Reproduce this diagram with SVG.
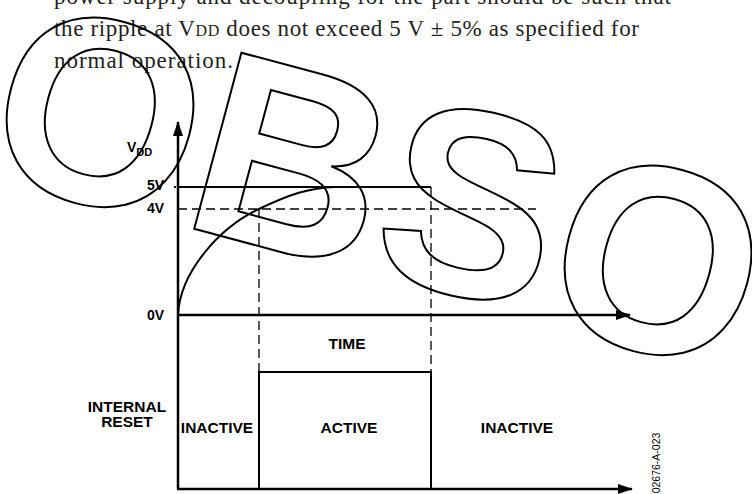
<svg xmlns="http://www.w3.org/2000/svg" width="752" height="494" viewBox="0 0 752 494">
  <defs>
    <style>
      .body { font-family: "Liberation Serif", "Times New Roman", serif; font-size: 23px; fill: #231f20; }
      .lbl { font-family: "Liberation Sans", Arial, sans-serif; font-weight: bold; font-size: 15.5px; fill: #000; }
      .vlbl { font-family: "Liberation Sans", Arial, sans-serif; font-weight: bold; font-size: 14px; fill: #000; }
      .code { font-family: "Liberation Sans", Arial, sans-serif; font-size: 10.5px; fill: #000; }
      .wm { font-family: "Liberation Sans", Arial, sans-serif; font-weight: bold; font-size: 265px; fill: none; stroke: #000; stroke-width: 2; stroke-linejoin: miter; }
      .axis { stroke: #000; stroke-width: 2.5; fill: none; }
      .solid { stroke: #000; stroke-width: 2; fill: none; }
      .dash { stroke: #000; stroke-width: 1.3; fill: none; stroke-dasharray: 9 5; }
    </style>
    <marker id="arr" viewBox="0 0 15 10" refX="14" refY="5" markerWidth="15" markerHeight="10" markerUnits="userSpaceOnUse" orient="auto">
      <path d="M0,0 L15,5 L0,10 Z" fill="#000"/>
    </marker>
  </defs>
  <rect width="752" height="494" fill="#fff"/>

  <g id="body-text">
    <text class="body" x="54" y="4" textLength="617" lengthAdjust="spacing">power supply and decoupling for the part should be such that</text>
    <text class="body" x="54" y="36" textLength="585" lengthAdjust="spacing">the ripple at V<tspan font-size="16">DD</tspan> does not exceed 5 V ± 5% as specified for</text>
    <text class="body" x="54" y="68" textLength="179" lengthAdjust="spacing">normal operation.</text>
  </g>

  <g id="connectors">
    <line id="y-axis" class="axis" x1="178" y1="489" x2="178" y2="122" marker-end="url(#arr)"/>
    <line id="time-axis" class="axis" x1="178" y1="315" x2="630" y2="315" marker-end="url(#arr)"/>
    <line id="reset-axis" class="axis" x1="177" y1="489" x2="632" y2="489" marker-end="url(#arr)"/>
    <line id="line-5v" class="solid" x1="178" y1="187" x2="431" y2="187"/>
    <line class="solid" x1="174" y1="187" x2="176" y2="187" stroke-width="1.5"/>
    <line id="line-4v" class="dash" x1="178" y1="209" x2="536" y2="209"/>
    <line class="dash" x1="259" y1="209" x2="259" y2="372"/>
    <line class="dash" x1="431" y1="187" x2="431" y2="372"/>
    <path id="vdd-curve" class="solid" d="M178,315 C180,272 219,228 259,209 C289,194.7 310,187.5 335,187"/>
    <path id="reset-pulse" class="solid" d="M259,489 L259,372 L431,372 L431,489"/>
  </g>

  <g id="labels">
    <text class="vlbl" x="127" y="152">V<tspan font-size="11" dy="4">DD</tspan></text>
    <text class="vlbl" x="164" y="190" text-anchor="end">5V</text>
    <text class="vlbl" x="164" y="213" text-anchor="end">4V</text>
    <text class="vlbl" x="164" y="320" text-anchor="end">0V</text>
    <text class="lbl" x="347" y="349" text-anchor="middle">TIME</text>
    <text class="lbl" x="127" y="412" text-anchor="middle">INTERNAL</text>
    <text class="lbl" x="127" y="427" text-anchor="middle">RESET</text>
    <text class="lbl" x="217" y="433" text-anchor="middle">INACTIVE</text>
    <text class="lbl" x="349" y="433" text-anchor="middle">ACTIVE</text>
    <text class="lbl" x="517" y="433" text-anchor="middle">INACTIVE</text>
    <text class="code" transform="translate(660,463) rotate(-90)" text-anchor="middle">02676-A-023</text>
  </g>

  <g id="watermark">
    <text class="wm" transform="translate(101,109) rotate(15)" text-anchor="middle" y="95">O</text>
    <text class="wm" transform="translate(297,158) rotate(15)" text-anchor="middle" x="-3" y="95">B</text>
    <text class="wm" transform="translate(471,200) rotate(13)" text-anchor="middle" x="2" y="95">S</text>
    <text class="wm" transform="translate(659,257) rotate(15)" text-anchor="middle" y="95">O</text>
  </g>
</svg>
